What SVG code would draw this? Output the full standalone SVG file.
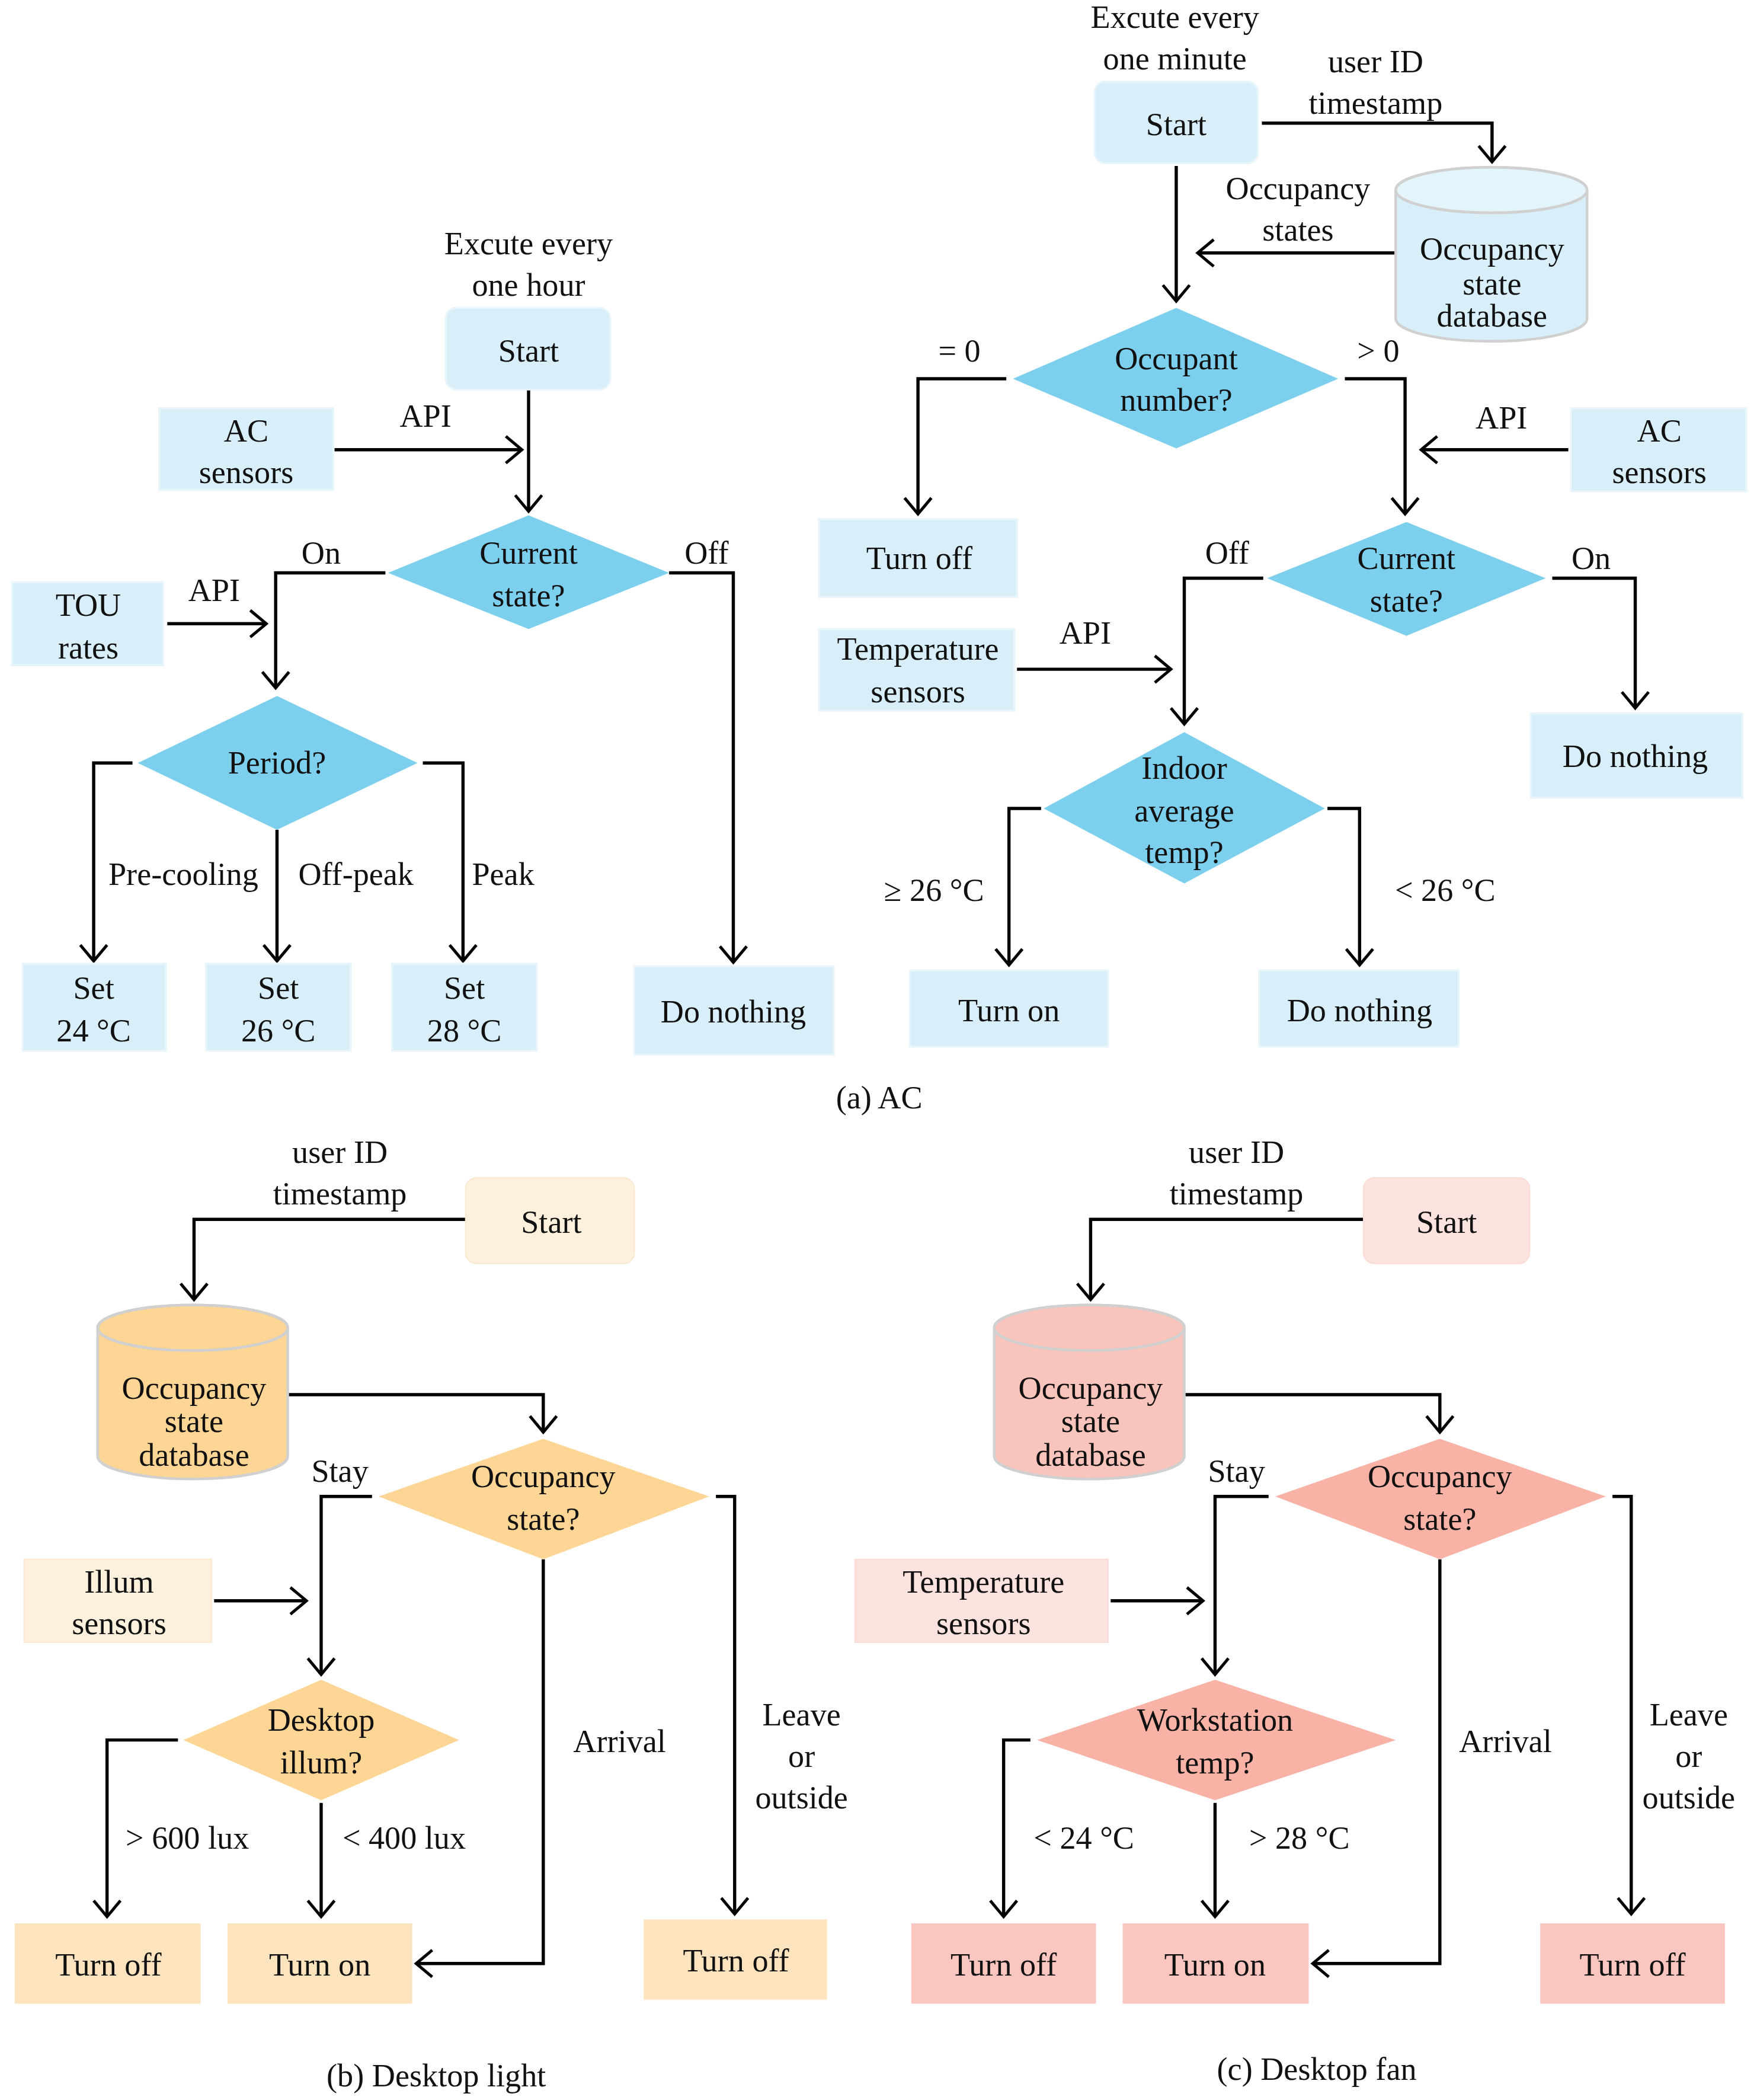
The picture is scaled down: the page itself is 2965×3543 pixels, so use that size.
<svg xmlns="http://www.w3.org/2000/svg" width="2965" height="3543" viewBox="0 0 2965 3543">
<defs>
<marker id="ah" markerUnits="userSpaceOnUse" markerWidth="30" markerHeight="30" viewBox="-15 -15 30 30" refX="0" refY="0" orient="auto"><path d="M-12,-10 L0,0 L-12,10" fill="none" stroke="#000" stroke-width="2.2"/></marker>
<style>
text{font-family:'Liberation Serif','DejaVu Serif',serif;font-size:24px;fill:#111;text-anchor:middle;dominant-baseline:central}
.c{fill:none;stroke:#000;stroke-width:2.4;marker-end:url(#ah)}
.b1{fill:#d8eff9;stroke:#e8f5fb;stroke-width:1.5}
.d1{fill:#7dcfee}
.o1{fill:#fdf0dd;stroke:#fbe9d2}
.o2{fill:#fdd594}
.o3{fill:#fde4bf}
.p1{fill:#fde3df;stroke:#fbdcd6}
.p2{fill:#f9b3a6}
.p3{fill:#fac6bf}
.cy{stroke:#d0d0d0;stroke-width:2}
</style>
</defs>
<rect width="2965" height="3543" fill="#fff"/>
<g transform="scale(2.2582)" font-family="Liberation Serif, serif">
<g id="connectors">
<path class="c" d="M250,336 H390"/>
<path class="c" d="M395,291 V382"/>
<path class="c" d="M288,428 H206 V514"/>
<path class="c" d="M500,428 H548 V719"/>
<path class="c" d="M125,466 H199"/>
<path class="c" d="M99,570 H70 V718"/>
<path class="c" d="M316,570 H346 V718"/>
<path class="c" d="M207,620 V718"/>
<path class="c" d="M943,92 H1115 V121"/>
<path class="c" d="M1043,189 H895"/>
<path class="c" d="M879,124 V225"/>
<path class="c" d="M752,283 H686 V384"/>
<path class="c" d="M1005,283 H1050 V384"/>
<path class="c" d="M1172,336 H1062"/>
<path class="c" d="M944,432 H885 V541"/>
<path class="c" d="M1160,432 H1222 V529"/>
<path class="c" d="M760,500 H875"/>
<path class="c" d="M778,604 H754 V721"/>
<path class="c" d="M992,604 H1016 V721"/>
<path class="c" d="M348,911 H145 V971"/>
<path class="c" d="M215,1042 H406 V1070"/>
<path class="c" d="M278,1118 H240 V1251"/>
<path class="c" d="M535,1118 H549 V1430"/>
<path class="c" d="M406,1165 V1467 H311"/>
<path class="c" d="M160,1196 H229"/>
<path class="c" d="M133,1300 H80 V1432"/>
<path class="c" d="M240,1347 V1432"/>
<path class="c" d="M1019,911 H815 V971"/>
<path class="c" d="M885,1042 H1076 V1070"/>
<path class="c" d="M948,1118 H908 V1251"/>
<path class="c" d="M1205,1118 H1219 V1430"/>
<path class="c" d="M1076,1165 V1467 H981"/>
<path class="c" d="M830,1196 H899"/>
<path class="c" d="M770,1300 H750 V1432"/>
<path class="c" d="M908,1347 V1432"/>
</g>
<g id="labels">
<text x="395" y="182">Excute every</text><text x="395" y="213">one hour</text>
<text x="318" y="311">API</text><text x="240" y="413">On</text><text x="528" y="413">Off</text>
<text x="160" y="441">API</text>
<text x="137" y="653">Pre-cooling</text><text x="266" y="653">Off-peak</text><text x="376" y="653">Peak</text>
<text x="878" y="13">Excute every</text><text x="878" y="44">one minute</text>
<text x="1028" y="46">user ID</text><text x="1028" y="77">timestamp</text>
<text x="970" y="141">Occupancy</text><text x="970" y="172">states</text>
<text x="717" y="262">= 0</text><text x="1030" y="262">&gt; 0</text>
<text x="1122" y="312">API</text><text x="917" y="413">Off</text><text x="1189" y="417">On</text>
<text x="811" y="473">API</text>
<text x="698" y="665">≥ 26 °C</text><text x="1080" y="665">&lt; 26 °C</text>
<text x="657" y="820">(a) AC</text>
<text x="254" y="861">user ID</text><text x="254" y="892">timestamp</text>
<text x="254" y="1099">Stay</text><text x="463" y="1301">Arrival</text>
<text x="599" y="1281">Leave</text><text x="599" y="1312">or</text><text x="599" y="1343">outside</text>
<text x="140" y="1373">&gt; 600 lux</text><text x="302" y="1373">&lt; 400 lux</text>
<text x="326" y="1551">(b) Desktop light</text>
<text x="924" y="861">user ID</text><text x="924" y="892">timestamp</text>
<text x="924" y="1099">Stay</text><text x="1125" y="1301">Arrival</text>
<text x="1262" y="1281">Leave</text><text x="1262" y="1312">or</text><text x="1262" y="1343">outside</text>
<text x="810" y="1373">&lt; 24 °C</text><text x="971" y="1373">&gt; 28 °C</text>
<text x="984" y="1546">(c) Desktop fan</text>
</g>
<g id="startA"><rect class="b1" x="333" y="230" width="123" height="61" rx="8"/><text x="395" y="262">Start</text></g>
<g id="acSensA"><rect class="b1" x="119" y="305" width="130" height="61"/><text x="184" y="322">AC</text><text x="184" y="353">sensors</text></g>
<g id="curA"><polygon class="d1" points="395,385 500,428 395,470 290,428"/><text x="395" y="413">Current</text><text x="395" y="445">state?</text></g>
<g id="tou"><rect class="b1" x="9" y="435" width="113" height="62"/><text x="66" y="452">TOU</text><text x="66" y="484">rates</text></g>
<g id="period"><polygon class="d1" points="207,520 312,570 207,620 103,570"/><text x="207" y="570">Period?</text></g>
<g id="set24"><rect class="b1" x="17" y="720" width="107" height="65"/><text x="70" y="738">Set</text><text x="70" y="770">24 °C</text></g>
<g id="set26"><rect class="b1" x="154" y="720" width="108" height="65"/><text x="208" y="738">Set</text><text x="208" y="770">26 °C</text></g>
<g id="set28"><rect class="b1" x="293" y="720" width="108" height="65"/><text x="347" y="738">Set</text><text x="347" y="770">28 °C</text></g>
<g id="doNothA"><rect class="b1" x="474" y="722" width="149" height="66"/><text x="548" y="756">Do nothing</text></g>
<g id="startB"><rect class="b1" x="818" y="61" width="122" height="61" rx="8"/><text x="879" y="93">Start</text></g>
<g id="dbA"><path d="M1043,142 A71.5,17 0 0 1 1186,142 V238 A71.5,17 0 0 1 1043,238 Z" fill="#d8eff9" stroke="#d0d0d0" stroke-width="2"/><ellipse cx="1114.5" cy="142" rx="71.5" ry="17" fill="#e3f4fb" stroke="#d0d0d0" stroke-width="2"/><text x="1115" y="186">Occupancy</text><text x="1115" y="212">state</text><text x="1115" y="236">database</text></g>
<g id="occNum"><polygon class="d1" points="879,230 1000,283 879,335 757,283"/><text x="879" y="268">Occupant</text><text x="879" y="299">number?</text></g>
<g id="turnOffA"><rect class="b1" x="612" y="388" width="148" height="58"/><text x="687" y="417">Turn off</text></g>
<g id="acSensB"><rect class="b1" x="1174" y="305" width="131" height="62"/><text x="1240" y="322">AC</text><text x="1240" y="353">sensors</text></g>
<g id="curB"><polygon class="d1" points="1051,390 1155,432 1051,475 947,432"/><text x="1051" y="417">Current</text><text x="1051" y="449">state?</text></g>
<g id="doNothB"><rect class="b1" x="1144" y="533" width="158" height="63"/><text x="1222" y="565">Do nothing</text></g>
<g id="tempSensA"><rect class="b1" x="612" y="470" width="146" height="61"/><text x="686" y="485">Temperature</text><text x="686" y="517">sensors</text></g>
<g id="indoor"><polygon class="d1" points="885,547 990,604 885,660 780,604"/><text x="885" y="574">Indoor</text><text x="885" y="606">average</text><text x="885" y="637">temp?</text></g>
<g id="turnOnA"><rect class="b1" x="680" y="725" width="148" height="57"/><text x="754" y="755">Turn on</text></g>
<g id="doNothC"><rect class="b1" x="941" y="725" width="149" height="57"/><text x="1016" y="755">Do nothing</text></g>
<g id="startL"><rect class="o1" x="348" y="880" width="126" height="64" rx="8"/><text x="412" y="913">Start</text></g>
<g id="dbL"><path d="M73,992 A71,17 0 0 1 215,992 V1088 A71,17 0 0 1 73,1088 Z" fill="#fdd594" stroke="#d0d0d0" stroke-width="2"/><ellipse cx="144" cy="992" rx="71" ry="17" fill="#fdd594" stroke="#d0d0d0" stroke-width="2"/><text x="145" y="1037">Occupancy</text><text x="145" y="1062">state</text><text x="145" y="1087">database</text></g>
<g id="occL"><polygon class="o2" points="406,1075 530,1118 406,1165 283,1118"/><text x="406" y="1103">Occupancy</text><text x="406" y="1135">state?</text></g>
<g id="illumS"><rect class="o1" x="18" y="1165" width="140" height="62"/><text x="89" y="1182">Illum</text><text x="89" y="1213">sensors</text></g>
<g id="deskIllum"><polygon class="o2" points="240,1255 343,1300 240,1345 137,1300"/><text x="240" y="1285">Desktop</text><text x="240" y="1317">illum?</text></g>
<g id="offL1"><rect class="o3" x="11" y="1437" width="139" height="60"/><text x="81" y="1468">Turn off</text></g>
<g id="onL"><rect class="o3" x="170" y="1437" width="138" height="60"/><text x="239" y="1468">Turn on</text></g>
<g id="offL2"><rect class="o3" x="481" y="1434" width="137" height="60"/><text x="550" y="1465">Turn off</text></g>
<g id="startF"><rect class="p1" x="1019" y="880" width="124" height="64" rx="8"/><text x="1081" y="913">Start</text></g>
<g id="dbF"><path d="M743,992 A71,17 0 0 1 885,992 V1088 A71,17 0 0 1 743,1088 Z" fill="#f9c4bb" stroke="#d0d0d0" stroke-width="2"/><ellipse cx="814" cy="992" rx="71" ry="17" fill="#f9c4bb" stroke="#d0d0d0" stroke-width="2"/><text x="815" y="1037">Occupancy</text><text x="815" y="1062">state</text><text x="815" y="1087">database</text></g>
<g id="occF"><polygon class="p2" points="1076,1075 1200,1118 1076,1165 953,1118"/><text x="1076" y="1103">Occupancy</text><text x="1076" y="1135">state?</text></g>
<g id="tempSensF"><rect class="p1" x="639" y="1165" width="189" height="62"/><text x="735" y="1182">Temperature</text><text x="735" y="1213">sensors</text></g>
<g id="wsTemp"><polygon class="p2" points="908,1255 1043,1300 908,1345 775,1300"/><text x="908" y="1285">Workstation</text><text x="908" y="1317">temp?</text></g>
<g id="offF1"><rect class="p3" x="681" y="1437" width="138" height="60"/><text x="750" y="1468">Turn off</text></g>
<g id="onF"><rect class="p3" x="839" y="1437" width="139" height="60"/><text x="908" y="1468">Turn on</text></g>
<g id="offF2"><rect class="p3" x="1151" y="1437" width="138" height="60"/><text x="1220" y="1468">Turn off</text></g>
</g>
</svg>
